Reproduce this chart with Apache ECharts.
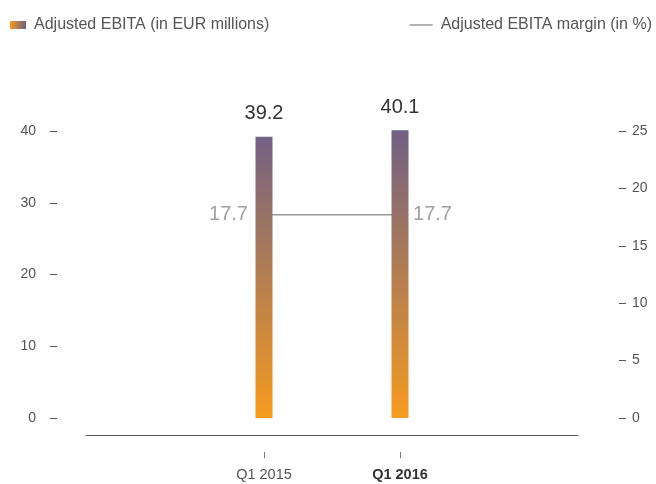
<!DOCTYPE html>
<html>
<head>
<meta charset="utf-8">
<script src="https://cdn.jsdelivr.net/npm/echarts@6/dist/echarts.min.js"></script>
<style>
  html, body { margin: 0; padding: 0; background: #fff; }
  #chart { width: 656px; height: 484px; }
</style>
</head>
<body>
<div id="chart"></div>
<script>
// chart data
const categories = ['Q1 2015', 'Q1 2016']
const ebita = [39.2, 40.1]
const margin = [17.7, 17.7]
const leftTicks = { min: 0, max: 40, interval: 10 }
const rightTicks = { min: 0, max: 25, interval: 5 }

const font = 'Liberation Sans, Arial, Helvetica, sans-serif'
const orange = '#f59b20'
const purple = '#6d5f87'

const chart = echarts.init(document.getElementById('chart'))

chart.setOption({
  animation: false,
  textStyle: { fontFamily: font },
  legend: [{
    left: 10,
    top: 17,
    padding: 0,
    itemWidth: 16,
    itemHeight: 8,
    icon: 'rect',
    textStyle: { fontSize: 16, color: '#555', padding: [0, 0, 0, 3] },
    data: [{
      name: 'Adjusted EBITA (in EUR millions)',
      itemStyle: {
        color: new echarts.graphic.LinearGradient(0, 0, 1, 0, [
          { offset: 0, color: orange },
          { offset: 1, color: purple }
        ])
      }
    }]
  }, {
    right: 4,
    top: 17,
    padding: 0,
    itemWidth: 23,
    itemHeight: 1.5,
    icon: 'rect',
    textStyle: { fontSize: 16, color: '#555', padding: [0, 0, 0, 3] },
    data: ['Adjusted EBITA margin (in %)']
  }],
  grid: [
    // bars
    { left: 196, right: 188, top: 131, bottom: 66 },
    // baseline
    { left: 86, right: 78, top: 131, bottom: 49 },
    // category ticks and labels
    { left: 196, right: 188, top: 131, bottom: 32 }
  ],
  xAxis: [{
    type: 'category',
    gridIndex: 0,
    data: categories,
    show: false
  }, {
    type: 'category',
    gridIndex: 1,
    data: categories,
    axisLine: { show: true, lineStyle: { color: '#555', width: 1 } },
    axisTick: { show: false },
    axisLabel: { show: false }
  }, {
    type: 'category',
    gridIndex: 2,
    data: [
      { value: categories[0], textStyle: { color: '#555' } },
      { value: categories[1], textStyle: { color: '#333', fontWeight: 'bold' } }
    ],
    axisLine: { show: false },
    axisTick: { show: true, alignWithLabel: true, length: 6, lineStyle: { color: '#777' } },
    axisLabel: { fontSize: 14.5, margin: 15 }
  }],
  yAxis: [{
    type: 'value',
    gridIndex: 0,
    position: 'left',
    offset: 139,
    min: leftTicks.min,
    max: leftTicks.max,
    interval: leftTicks.interval,
    axisLine: { show: false },
    axisTick: { show: true, length: 7, lineStyle: { color: '#555' } },
    axisLabel: { fontSize: 14, color: '#555', margin: 21 },
    splitLine: { show: false }
  }, {
    type: 'value',
    gridIndex: 0,
    position: 'right',
    offset: 151,
    min: rightTicks.min,
    max: rightTicks.max,
    interval: rightTicks.interval,
    axisLine: { show: false },
    axisTick: { show: true, length: 7, lineStyle: { color: '#555' } },
    axisLabel: { fontSize: 14, color: '#555', margin: 13 },
    splitLine: { show: false }
  }, {
    type: 'value',
    gridIndex: 1,
    show: false
  }, {
    type: 'value',
    gridIndex: 2,
    show: false
  }],
  series: [{
    name: 'Adjusted EBITA (in EUR millions)',
    type: 'bar',
    xAxisIndex: 0,
    yAxisIndex: 0,
    barWidth: 17,
    clip: false,
    z: 3,
    data: ebita,
    itemStyle: {
      color: new echarts.graphic.LinearGradient(0, 418, 0, 125, [
        { offset: 0, color: orange },
        { offset: 1, color: purple }
      ], true)
    },
    label: {
      show: true,
      position: 'top',
      distance: 13,
      fontSize: 20,
      color: '#333'
    }
  }, {
    name: 'Adjusted EBITA margin (in %)',
    type: 'line',
    xAxisIndex: 0,
    yAxisIndex: 1,
    z: 2,
    symbol: 'circle',
    symbolSize: 0.1,
    showSymbol: true,
    color: '#9a9a9a',
    lineStyle: { color: '#9a9a9a', width: 1.5 },
    data: margin.map((v, i) => ({
      value: v,
      label: { position: i === 0 ? 'left' : 'right', distance: i === 0 ? 16 : 13 }
    })),
    label: {
      show: true,
      fontSize: 20,
      color: '#a0a0a0'
    }
  }]
})
</script>
</body>
</html>
